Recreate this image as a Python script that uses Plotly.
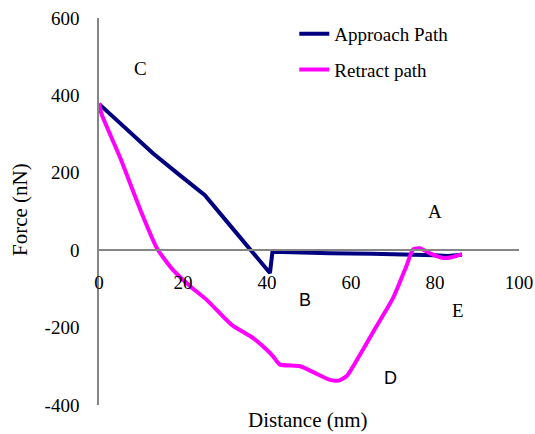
import plotly.graph_objects as go

# Data
approach_x = [0, 12.9, 19, 25.2, 31.6, 40.7, 41.3, 46, 55, 65, 73, 80, 83, 86.4]
approach_y = [378, 250, 196, 142, 59, -59, -4, -6, -8, -9, -10, -13, -15, -12]

retract_x = [0, 0.6, 5, 10, 13.8, 17.6, 21.7, 25.7, 31.6, 36.7, 40, 41.5, 43, 47.9, 51,
             55, 57, 59, 62.1, 66.1, 70, 73.3, 74.8, 76.4, 78.8, 81.9, 84, 86.4]
retract_y = [380, 352, 240, 100, 5, -51, -93, -129, -193, -227, -258, -275, -295, -300, -315,
             -335, -337, -325, -271, -196, -124, -38, 2, 5, -8, -20, -18, -10]

x_ticks = [0, 20, 40, 60, 80, 100]
x_ticklabels = ["0", "20", "40", "60", "80", "100"]
y_ticks = [-400, -200, 0, 200, 400, 600]
y_ticklabels = ["-400", "-200", "0", "200", "400", "600"]

labels_text = ["C", "A", "B", "E", "D"]
labels_x = [9.8, 80, 49, 85.5, 69.3]
labels_y = [470, 101, -129, -157, -330]
labels_font = ["Liberation Serif", "Liberation Serif", "Liberation Sans", "Liberation Serif", "Liberation Sans"]

serif = "Liberation Serif"

fig = go.Figure()
fig.add_trace(go.Scatter(x=approach_x, y=approach_y, mode="lines", name="Approach Path",
                         legendgroup="a",
                         line=dict(color="#000080", width=4)))
fig.add_trace(go.Scatter(x=retract_x, y=retract_y, mode="lines", name="Retract path",
                         legendgroup="r",
                         line=dict(color="#FF00FF", width=4, shape="spline", smoothing=0.6)))

for t, x, y, f in zip(labels_text, labels_x, labels_y, labels_font):
    fig.add_annotation(x=x, y=y, xref="x", yref="y", text=t, showarrow=False,
                       font=dict(family=f, size=19 if f == serif else 18, color="black"))

fig.add_annotation(x=(20 - 99) / 420, y=(405 - 210) / 387, xref="paper", yref="paper",
                   text="Force (nN)", textangle=-90, showarrow=False,
                   xanchor="center", yanchor="middle",
                   font=dict(family=serif, size=21, color="black"))
fig.add_annotation(x=(308 - 99) / 420, y=(405 - 420) / 387, xref="paper", yref="paper",
                   text="Distance (nm)", showarrow=False,
                   xanchor="center", yanchor="middle",
                   font=dict(family=serif, size=21, color="black"))

tick_font = dict(family=serif, size=19, color="black")

fig.update_layout(
    width=535, height=434,
    margin=dict(l=99, r=16, t=18, b=29, autoexpand=False),
    paper_bgcolor="white", plot_bgcolor="white",
    font=dict(family=serif, size=19, color="black"),
    showlegend=True,
    legend=dict(x=0.465, y=1.008, xanchor="left", yanchor="top",
                bgcolor="rgba(0,0,0,0)", borderwidth=0,
                font=dict(family=serif, size=19, color="black"),
                traceorder="grouped", tracegroupgap=8),
    xaxis=dict(range=[0, 100], tickvals=x_ticks, ticktext=x_ticklabels,
               tickfont=tick_font,
               showgrid=False, zeroline=False, showline=True, automargin=False,
               linecolor="#868686", linewidth=1.5, ticks="",
               anchor="free", position=0.4, ticklabelstandoff=15),
    yaxis=dict(range=[-400, 600], tickvals=y_ticks, ticktext=y_ticklabels,
               tickfont=tick_font,
               showgrid=False, zeroline=False, showline=True, automargin=False,
               linecolor="#868686", linewidth=1.5, ticks="",
               ticklabelstandoff=14),
)

fig.write_html("out.html", config={"displayModeBar": False},
               post_script="document.body.style.margin='0';")
